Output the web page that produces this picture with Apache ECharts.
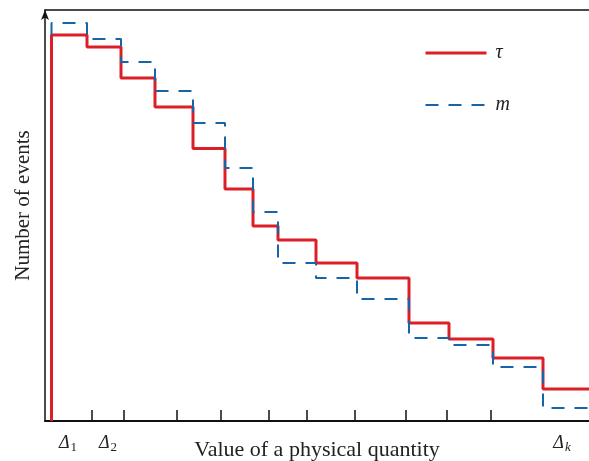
<!DOCTYPE html>
<html>
<head>
<meta charset="utf-8">
<script src="https://cdn.jsdelivr.net/npm/echarts@6/dist/echarts.min.js"></script>
<style>html,body{margin:0;padding:0;background:#fff}#c{width:589px;height:461px}</style>
</head>
<body>
<div id="c"></div>
<script>
// Bin edges (arbitrary units along the physical quantity)
const binEdges = [0.65, 4.2, 7.6, 11.0, 14.8, 18.0, 20.8, 23.3, 27.1, 31.2, 36.4, 40.4, 44.8, 49.8, 54.4];
// Number of events per bin (arbitrary units)
const tauCounts = [38.6, 37.4, 34.3, 31.4, 27.25, 23.2, 19.5, 18.1, 15.8, 14.3, 9.8, 8.2, 6.3, 3.2];
const mCounts   = [39.8, 38.2, 35.9, 33.0, 29.8, 25.3, 20.9, 15.8, 14.3, 12.2, 8.3, 7.6, 5.4, 1.3];
// Axis ticks and labels
const tickPositions = [4.7, 7.9, 13.2, 17.6, 22.4, 26.2, 31.0, 36.1, 40.2, 44.6];
const labelPositions = [2.3, 6.3, 51.7];
const labelSubs = ['1', '2', 'k'];
const seriesNames = ['τ', 'm'];
const xMax = 54.4, yMax = 41.1;

function histPoints(edges, vals, startY) {
  const pts = [[edges[0], startY]];
  for (let i = 0; i < vals.length; i++) {
    pts.push([edges[i], vals[i]]);
    pts.push([edges[i + 1], vals[i]]);
  }
  return pts;
}

const serif = 'Liberation Serif';
const red = '#dc1f26', blue = '#1565a8';
const chart = echarts.init(document.getElementById('c'), null, {renderer: 'canvas'});
chart.setOption({
  animation: false,
  grid: {left: 45, right: 0, top: 10, bottom: 40, containLabel: false, outerBoundsMode: 'none'},
  legend: {
    orient: 'vertical', left: 419, top: 38, itemWidth: 61, itemHeight: 14, itemGap: 32,
    data: [
      {name: seriesNames[0], lineStyle: {width: 3, color: red}},
      {name: seriesNames[1], lineStyle: {width: 2, color: blue, type: [13, 10]}}
    ],
    itemStyle: {opacity: 0, borderWidth: 0},
    textStyle: {fontFamily: serif, fontStyle: 'italic', fontSize: 20, color: '#222', padding: [0, 0, 0, 4]}
  },
  xAxis: [{
    type: 'value', min: 0, max: xMax, position: 'bottom',
    name: 'Value of a physical quantity', nameLocation: 'middle', nameGap: 18, nameMoveOverlap: false,
    nameTextStyle: {fontFamily: serif, fontSize: 22, color: '#222'},
    splitLine: {show: false},
    axisLine: {lineStyle: {color: '#111', width: 2}},
    axisTick: {show: true, inside: true, length: 11, lineStyle: {color: '#111', width: 1.5}, customValues: tickPositions},
    axisLabel: {
      show: true, margin: 12, customValues: labelPositions,
      formatter: function (v, i) {
        let k = labelPositions.indexOf(v);
        if (k < 0) k = i;
        const sub = labelSubs[k];
        return '{d|Δ}{' + (/^[0-9]+$/.test(sub) ? 'n' : 's') + '|' + sub + '}';
      },
      rich: {
        d: {fontFamily: serif, fontStyle: 'italic', fontSize: 18, color: '#222'},
        n: {fontFamily: serif, fontSize: 13, color: '#222', padding: [8, 0, 0, 1]},
        s: {fontFamily: serif, fontStyle: 'italic', fontSize: 13, color: '#222', padding: [8, 0, 0, 1]}
      }
    }
  }, {
    type: 'value', min: 0, max: xMax, position: 'top',
    splitLine: {show: false}, axisTick: {show: false}, axisLabel: {show: false},
    axisLine: {show: true, lineStyle: {color: '#111', width: 1.5}}
  }],
  yAxis: {
    type: 'value', min: 0, max: yMax,
    name: 'Number of events', nameLocation: 'middle', nameGap: 11, nameRotate: 90, nameMoveOverlap: false,
    nameTextStyle: {fontFamily: serif, fontSize: 21, color: '#222', padding: [0, 0, 0, 20]},
    splitLine: {show: false}, axisTick: {show: false}, axisLabel: {show: false},
    axisLine: {show: true, symbol: ['none', 'arrow'], symbolSize: [6, 10], lineStyle: {color: '#111', width: 1.5}}
  },
  series: [{
    name: seriesNames[0], type: 'line', symbol: 'none', xAxisIndex: 0,
    data: histPoints(binEdges, tauCounts, 0),
    lineStyle: {color: red, width: 3}, itemStyle: {color: red}
  }, {
    name: seriesNames[1], type: 'line', symbol: 'none', xAxisIndex: 0,
    data: histPoints(binEdges, mCounts, tauCounts[0]),
    lineStyle: {color: blue, width: 2, type: [13, 10]}, itemStyle: {color: blue}
  }]
});
</script>
</body>
</html>
